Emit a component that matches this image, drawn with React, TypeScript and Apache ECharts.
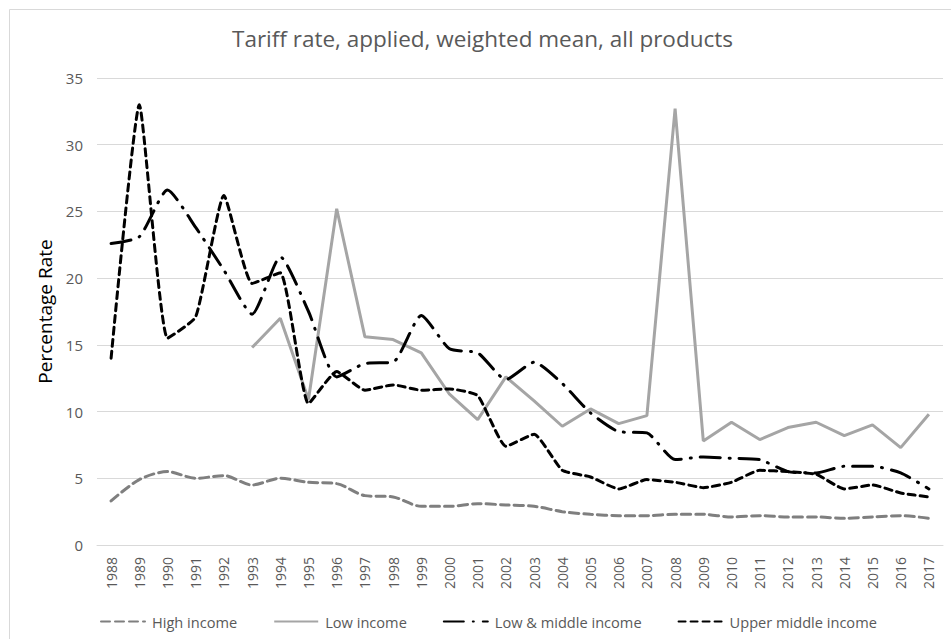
import React, { useEffect, useRef } from "react";
import * as echarts from "echarts";

const years = [
  "1988","1989","1990","1991","1992","1993","1994","1995","1996","1997",
  "1998","1999","2000","2001","2002","2003","2004","2005","2006","2007",
  "2008","2009","2010","2011","2012","2013","2014","2015","2016","2017",
];

const highIncome = [
  3.3, 4.9, 5.5, 5.0, 5.2, 4.5, 5.0, 4.7, 4.6, 3.7,
  3.6, 2.9, 2.9, 3.1, 3.0, 2.9, 2.5, 2.3, 2.2, 2.2,
  2.3, 2.3, 2.1, 2.2, 2.1, 2.1, 2.0, 2.1, 2.2, 2.0,
];

const lowIncome: (number | null)[] = [
  null, null, null, null, null, 14.8, 17.0, 10.9, 25.2, 15.6,
  15.4, 14.4, 11.3, 9.4, 12.6, 10.8, 8.9, 10.2, 9.1, 9.7,
  32.7, 7.8, 9.2, 7.9, 8.8, 9.2, 8.2, 9.0, 7.3, 9.8,
];

const lowMiddleIncome = [
  22.6, 23.1, 26.6, 23.8, 20.6, 17.3, 21.6, 17.5, 12.6, 13.6,
  13.7, 17.2, 14.7, 14.4, 12.4, 13.7, 12.1, 9.9, 8.5, 8.4,
  6.4, 6.6, 6.5, 6.4, 5.5, 5.4, 5.9, 5.9, 5.4, 4.2,
];

const upperMiddleIncome = [
  14.0, 33.0, 15.5, 17.1, 26.2, 19.6, 20.4, 10.6, 13.0, 11.6,
  12.0, 11.6, 11.7, 11.2, 7.4, 8.3, 5.6, 5.1, 4.2, 4.9,
  4.7, 4.3, 4.7, 5.6, 5.5, 5.3, 4.2, 4.5, 3.9, 3.6,
];

const yTicks = [0, 5, 10, 15, 20, 25, 30, 35];

const FONT = "'Open Sans', 'Noto Sans', sans-serif";

export default function App() {
  const ref = useRef<HTMLDivElement>(null);

  useEffect(() => {
    if (!ref.current) return;
    const chart = echarts.init(ref.current, null, { renderer: "svg" });
    chart.setOption({
      animation: false,
      backgroundColor: "#ffffff",
      textStyle: { fontFamily: FONT },
      title: {
        text: "Tariff rate, applied, weighted mean, all products",
        left: 232,
        top: 27,
        padding: 0,
        textStyle: {
          fontFamily: FONT,
          fontSize: 22.5,
          fontWeight: "normal",
          color: "#595959",
        },
      },
      graphic: [
        {
          type: "rect",
          shape: { x: 9.5, y: 9.5, width: 1000, height: 700 },
          style: { fill: "none", stroke: "#d9d9d9", lineWidth: 1 },
          silent: true,
        },
      ],
      grid: { left: 97, right: 8, top: 78, bottom: 94 },
      legend: {
        left: 95,
        top: 609,
        itemWidth: 44,
        itemHeight: 14,
        itemGap: 36,
        itemStyle: { opacity: 0 },
        textStyle: { fontFamily: FONT, fontSize: 14.6, color: "#595959", padding: [0, 0, 0, 2] },
        data: ["High income", "Low income", "Low & middle income", "Upper middle income"],
      },
      xAxis: {
        type: "category",
        data: years,
        boundaryGap: true,
        axisLine: { lineStyle: { color: "#d9d9d9", width: 1 } },
        axisTick: { show: false },
        axisLabel: {
          rotate: 90,
          margin: 12,
          fontFamily: FONT,
          fontSize: 14,
          color: "#595959",
          interval: 0,
        },
      },
      yAxis: {
        type: "value",
        min: yTicks[0],
        max: yTicks[yTicks.length - 1],
        interval: 5,
        name: "Percentage Rate",
        nameLocation: "middle",
        nameGap: 40,
        nameTextStyle: { fontFamily: FONT, fontSize: 19, color: "#000000" },
        axisLine: { show: false },
        axisTick: { show: false },
        axisLabel: { margin: 14, fontFamily: FONT, fontSize: 15, color: "#595959" },
        splitLine: { lineStyle: { color: "#d9d9d9", width: 1 } },
      },
      series: [
        {
          name: "High income",
          type: "line",
          data: highIncome,
          symbol: "none",
          smooth: 0.3,
          color: "#7f7f7f",
          lineStyle: { color: "#7f7f7f", width: 3, type: [9, 5], cap: "round" },
        },
        {
          name: "Low income",
          type: "line",
          data: lowIncome,
          symbol: "none",
          color: "#a5a5a5",
          lineStyle: { color: "#a5a5a5", width: 3, type: "solid" },
        },
        {
          name: "Low & middle income",
          type: "line",
          data: lowMiddleIncome,
          symbol: "none",
          smooth: 0.2,
          color: "#000000",
          lineStyle: { color: "#000000", width: 3, type: [20, 9, 1, 9], cap: "round" },
        },
        {
          name: "Upper middle income",
          type: "line",
          data: upperMiddleIncome,
          symbol: "none",
          smooth: 0.15,
          color: "#000000",
          lineStyle: { color: "#000000", width: 3, type: [7, 5], cap: "round" },
        },
      ],
    });
    return () => chart.dispose();
  }, []);

  return (
    <div
      ref={ref}
      style={{ position: "fixed", left: 0, top: 0, width: 951, height: 639, background: "#fff" }}
    />
  );
}
